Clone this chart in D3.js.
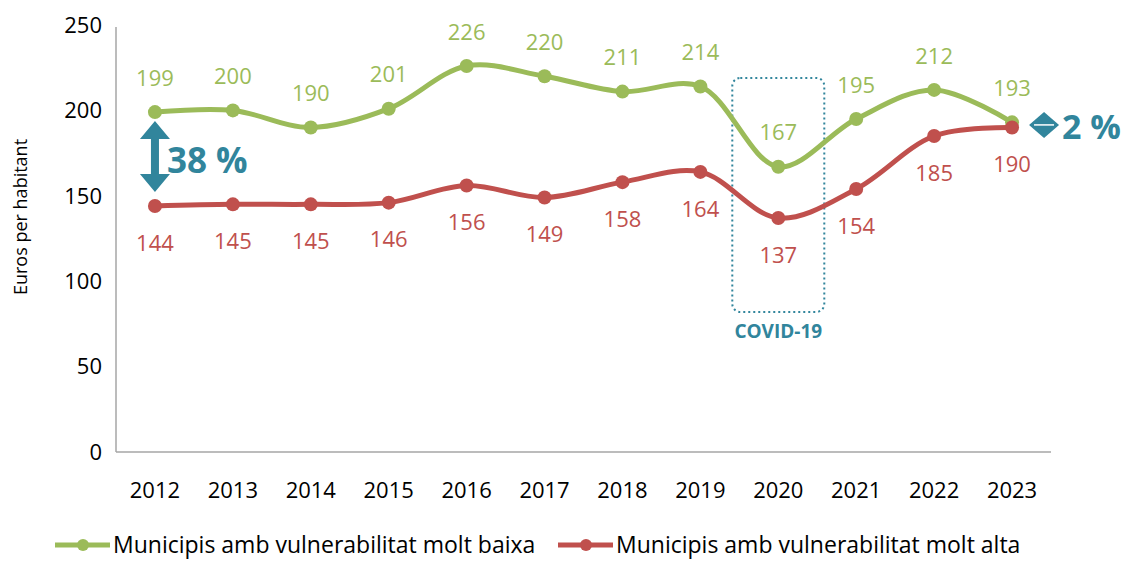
<!DOCTYPE html>
<html>
<head>
<meta charset="utf-8">
<script src="https://cdn.jsdelivr.net/npm/d3@7"></script>
<style>
	body { margin: 0; background: #fff; }
	text { font-family: "Open Sans", "Noto Sans", sans-serif; }
</style>
</head>
<body>
<div id="chart"></div>
<script>
var years = ['2012','2013','2014','2015','2016','2017','2018','2019','2020','2021','2022','2023'];
var baixa = [199, 200, 190, 201, 226, 220, 211, 214, 167, 195, 212, 193];
var alta = [144, 145, 145, 146, 156, 149, 158, 164, 137, 154, 185, 190];
var yTicks = [0, 50, 100, 150, 200, 250];
var seriesNames = ['Municipis amb vulnerabilitat molt baixa', 'Municipis amb vulnerabilitat molt alta'];
var gapLabels = ['38 %', '2 %'];
var covidYear = '2020';

var green = '#9bbb59';
var red = '#c0504d';
var teal = '#31859c';

var width = 1127, height = 561;
var margin = {left: 116, right: 76, top: 25, bottom: 109};

var svg = d3.select('#chart').append('svg')
	.attr('width', width)
	.attr('height', height);

var x = d3.scaleBand()
	.domain(years)
	.range([margin.left, width - margin.right]);

var y = d3.scaleLinear()
	.domain([0, 250])
	.range([height - margin.bottom, margin.top]);

function cx(d, i){ return x(years[i]) + x.bandwidth() / 2; }

//axes
svg.append('line')
	.attr('x1', margin.left).attr('x2', margin.left)
	.attr('y1', y(250) + 2).attr('y2', y(0))
	.attr('stroke', '#a6a6a6').attr('stroke-width', 1.5);
svg.append('line')
	.attr('x1', margin.left).attr('x2', width - margin.right)
	.attr('y1', y(0)).attr('y2', y(0))
	.attr('stroke', '#a6a6a6').attr('stroke-width', 1.5);

svg.selectAll('.ytick')
	.data(yTicks)
	.enter()
	.append('text')
	.attr('x', margin.left - 14)
	.attr('y', function(d){ return y(d); })
	.attr('dy', '0.35em')
	.attr('text-anchor', 'end')
	.style('font-size', '22px')
	.text(function(d){ return d; });

svg.selectAll('.xtick')
	.data(years)
	.enter()
	.append('text')
	.attr('x', function(d){ return x(d) + x.bandwidth() / 2; })
	.attr('y', y(0) + 38)
	.attr('dy', '0.35em')
	.attr('text-anchor', 'middle')
	.style('font-size', '22px')
	.text(function(d){ return d; });

svg.append('text')
	.attr('transform', 'translate(27,217) rotate(-90)')
	.attr('text-anchor', 'middle')
	.style('font-size', '18px')
	.text('Euros per habitant');

//covid box
var covidX = x(covidYear) + x.bandwidth() / 2;
svg.append('rect')
	.attr('x', covidX - 46)
	.attr('y', y(219))
	.attr('width', 92)
	.attr('height', y(82) - y(219))
	.attr('rx', 8)
	.attr('fill', 'none')
	.attr('stroke', teal)
	.attr('stroke-width', 2)
	.attr('stroke-dasharray', '2,3');
svg.append('text')
	.attr('x', covidX)
	.attr('y', y(82) + 19)
	.attr('dy', '0.35em')
	.attr('text-anchor', 'middle')
	.attr('fill', teal)
	.style('font-size', '19px')
	.style('font-weight', 'bold')
	.text('COVID-19');

//lines
var line = d3.line()
	.x(cx)
	.y(function(d){ return y(d); })
	.curve(d3.curveCatmullRom);

var series = [
	{values: baixa, color: green, dy: -34},
	{values: alta, color: red, dy: 37}
];

series.forEach(function(s){
	svg.append('path')
		.datum(s.values)
		.attr('d', line)
		.attr('fill', 'none')
		.attr('stroke', s.color)
		.attr('stroke-width', 5);

	svg.selectAll(null)
		.data(s.values)
		.enter()
		.append('circle')
		.attr('cx', cx)
		.attr('cy', function(d){ return y(d); })
		.attr('r', 7)
		.attr('fill', s.color);

	svg.selectAll(null)
		.data(s.values)
		.enter()
		.append('text')
		.attr('x', cx)
		.attr('y', function(d){ return y(d) + s.dy; })
		.attr('dy', '0.35em')
		.attr('text-anchor', 'middle')
		.attr('fill', s.color)
		.style('font-size', '22px')
		.text(function(d){ return d; });
});

//gap arrows
function doubleArrow(xc, y1, y2, head, shaft){
	var hw = head / 2, sw = shaft / 2, hl = Math.min(head * 0.6, (y2 - y1) / 2);
	var p = [
		[xc, y1], [xc + hw, y1 + hl], [xc + sw, y1 + hl],
		[xc + sw, y2 - hl], [xc + hw, y2 - hl], [xc, y2],
		[xc - hw, y2 - hl], [xc - sw, y2 - hl], [xc - sw, y1 + hl],
		[xc - hw, y1 + hl]
	];
	svg.append('path')
		.attr('d', 'M' + p.join('L') + 'Z')
		.attr('fill', teal);
}

var x0 = x(years[0]) + x.bandwidth() / 2;
doubleArrow(x0, y(baixa[0]) + 9, y(alta[0]) - 14, 30, 8);
svg.append('text')
	.attr('x', x0 + 12)
	.attr('y', y((baixa[0] + alta[0]) / 2) + 2)
	.attr('dy', '0.35em')
	.attr('fill', teal)
	.style('font-size', '35px')
	.style('font-weight', 'bold')
	.text(gapLabels[0]);

var xl = x(years[11]) + x.bandwidth() / 2;
var ym = y((baixa[11] + alta[11]) / 2);
svg.append('path')
	.attr('d', 'M' + (xl + 17) + ',' + ym + 'L' + (xl + 32) + ',' + (ym - 13) + 'L' + (xl + 47) + ',' + ym + 'L' + (xl + 32) + ',' + (ym + 13) + 'Z')
	.attr('fill', teal);
svg.append('line')
	.attr('x1', xl + 22).attr('x2', xl + 42)
	.attr('y1', ym).attr('y2', ym)
	.attr('stroke', '#fff').attr('stroke-width', 1.5);
svg.append('text')
	.attr('x', xl + 50)
	.attr('y', ym + 2)
	.attr('dy', '0.35em')
	.attr('fill', teal)
	.style('font-size', '34px')
	.style('font-weight', 'bold')
	.text(gapLabels[1]);

//legend
var legend = [
	{name: seriesNames[0], color: green, x: 55},
	{name: seriesNames[1], color: red, x: 558}
];
legend.forEach(function(l){
	var g = svg.append('g').attr('transform', 'translate(' + l.x + ',545)');
	g.append('line')
		.attr('x1', 0).attr('x2', 55)
		.attr('stroke', l.color).attr('stroke-width', 5);
	g.append('circle')
		.attr('cx', 28).attr('r', 6)
		.attr('fill', l.color);
	g.append('text')
		.attr('x', 58)
		.attr('dy', '0.35em')
		.style('font-size', '23px')
		.text(l.name);
});
</script>
</body>
</html>
